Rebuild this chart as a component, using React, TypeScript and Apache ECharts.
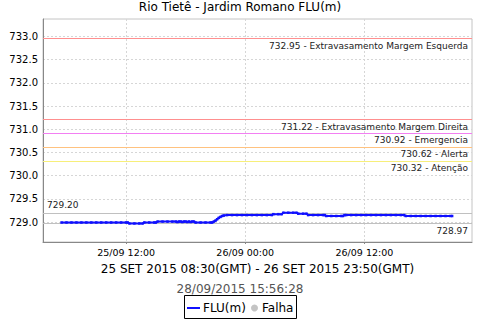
import React, { useEffect, useRef } from "react";
import * as echarts from "echarts";

const TITLE = "Rio Tietê - Jardim Romano FLU(m)";
const X_NAME = "25 SET 2015 08:30(GMT) - 26 SET 2015 23:50(GMT)";
const STAMP = "28/09/2015 15:56:28";
const SERIES_NAME = "FLU(m)";
const FAIL_NAME = "Falha";

const Y_TICKS = [729.0, 729.5, 730.0, 730.5, 731.0, 731.5, 732.0, 732.5, 733.0];
const Y_RANGE = [728.57, 733.375];
const X_TICKS = ["25/09 12:00", "26/09 00:00", "26/09 12:00"];
const X_RANGE = ["25/09 03:38", "26/09 22:50"];

const THRESHOLD_VALUES = [732.95, 731.22, 730.92, 730.62, 730.32];
const THRESHOLD_NAMES = [
  "Extravasamento Margem Esquerda",
  "Extravasamento Margem Direita",
  "Emergencia",
  "Alerta",
  "Atenção",
];
const THRESHOLD_COLORS = ["#ff8f8f", "#ff8f8f", "#f27ff2", "#ffc27f", "#f7ef7a"];

const TIMES = [
  "25/09 05:30", "25/09 06:00", "25/09 06:30", "25/09 07:00", "25/09 07:30", "25/09 08:00",
  "25/09 08:30", "25/09 09:00", "25/09 09:30", "25/09 10:00", "25/09 10:30", "25/09 11:00",
  "25/09 11:30", "25/09 12:00", "25/09 12:10", "25/09 12:20", "25/09 12:50", "25/09 13:20",
  "25/09 13:40", "25/09 13:50", "25/09 14:20", "25/09 14:50", "25/09 15:00", "25/09 15:10",
  "25/09 15:40", "25/09 16:10", "25/09 16:40", "25/09 17:00", "25/09 17:10", "25/09 17:20",
  "25/09 17:30", "25/09 17:40", "25/09 17:50", "25/09 18:00", "25/09 18:10", "25/09 18:20",
  "25/09 18:30", "25/09 18:40", "25/09 18:50", "25/09 19:00", "25/09 19:30", "25/09 20:00",
  "25/09 20:30", "25/09 20:40", "25/09 20:50", "25/09 21:00", "25/09 21:10", "25/09 21:20",
  "25/09 21:30", "25/09 21:40", "25/09 21:50", "25/09 22:10", "25/09 22:40", "25/09 23:10",
  "25/09 23:40", "26/09 00:10", "26/09 00:40", "26/09 01:10", "26/09 01:40", "26/09 02:10",
  "26/09 02:40", "26/09 02:50", "26/09 03:20", "26/09 03:40", "26/09 03:50", "26/09 04:20",
  "26/09 04:50", "26/09 05:10", "26/09 05:20", "26/09 05:50", "26/09 06:10", "26/09 06:20",
  "26/09 06:50", "26/09 07:20", "26/09 07:50", "26/09 08:00", "26/09 08:10", "26/09 08:40",
  "26/09 09:10", "26/09 09:40", "26/09 09:50", "26/09 10:00", "26/09 10:10", "26/09 10:40",
  "26/09 11:10", "26/09 11:40", "26/09 12:10", "26/09 12:40", "26/09 13:10", "26/09 13:40",
  "26/09 14:10", "26/09 14:40", "26/09 15:10", "26/09 15:40", "26/09 16:00", "26/09 16:10",
  "26/09 16:40", "26/09 17:10", "26/09 17:40", "26/09 18:10", "26/09 18:40", "26/09 19:10",
  "26/09 19:40", "26/09 20:10", "26/09 20:40", "26/09 20:50",
];
const LEVELS = [
  728.99, 728.99, 728.99, 728.99, 728.99, 728.99,
  728.99, 728.99, 728.99, 728.99, 728.99, 728.99,
  728.99, 728.99, 728.99, 728.97, 728.97, 728.97,
  728.97, 728.99, 728.99, 728.99, 728.99, 729.01,
  729.01, 729.01, 729.01, 729.01, 729.0, 729.01,
  729.01, 729.0, 729.01, 729.01, 729.0, 729.01,
  729.0, 729.01, 729.01, 728.99, 728.99, 728.99,
  728.99, 728.99, 729.01, 729.03, 729.06, 729.09,
  729.11, 729.13, 729.14, 729.15, 729.15, 729.15,
  729.15, 729.15, 729.15, 729.15, 729.15, 729.15,
  729.15, 729.17, 729.17, 729.17, 729.2, 729.2,
  729.2, 729.2, 729.18, 729.18, 729.18, 729.15,
  729.15, 729.15, 729.15, 729.15, 729.13, 729.13,
  729.13, 729.13, 729.13, 729.15, 729.15, 729.15,
  729.15, 729.15, 729.15, 729.15, 729.15, 729.15,
  729.15, 729.15, 729.15, 729.15, 729.15, 729.13,
  729.13, 729.13, 729.13, 729.13, 729.13, 729.13,
  729.13, 729.13, 729.13, 729.13,
];

const FONT = "DejaVu Sans";

function parseTime(s: string): number {
  const [d, t] = s.split(" ");
  const [dd, mm] = d.split("/").map(Number);
  const [hh, mi] = t.split(":").map(Number);
  return Date.UTC(2015, mm - 1, dd, hh, mi);
}
const pad = (n: number) => (n < 10 ? "0" + n : "" + n);
function fmtTime(v: number): string {
  const d = new Date(v);
  return `${pad(d.getUTCDate())}/${pad(d.getUTCMonth() + 1)} ${pad(d.getUTCHours())}:${pad(d.getUTCMinutes())}`;
}

const refLabel = (position: string, formatter: any) => ({
  show: true,
  position,
  formatter,
  color: "#222",
  fontSize: 9,
  fontFamily: FONT,
  distance: [4, 3],
});

export default function App() {
  const ref = useRef<HTMLDivElement>(null);
  useEffect(() => {
    document.body.style.margin = "0";
    const chart = echarts.init(ref.current!, null, { renderer: "svg" });
    const data = TIMES.map((t, i) => [parseTime(t), LEVELS[i]]);
    const thresholdSeries = THRESHOLD_VALUES.map((v, i) => ({
      name: THRESHOLD_NAMES[i],
      type: "line",
      data: [],
      silent: true,
      markLine: {
        silent: true,
        symbol: "none",
        lineStyle: { color: THRESHOLD_COLORS[i], type: "solid", width: 1 },
        label: refLabel("insideEndBottom", `${v.toFixed(2)} - ${THRESHOLD_NAMES[i]}`),
        data: [{ yAxis: v }],
      },
    }));
    chart.setOption({
      animation: false,
      textStyle: { fontFamily: FONT },
      title: {
        text: TITLE,
        left: "center",
        top: 1,
        padding: 0,
        textStyle: { fontSize: 12, fontWeight: "normal", fontFamily: FONT, color: "#000" },
      },
      grid: {
        left: 43,
        right: 8,
        top: 19,
        bottom: 78,
        show: true,
        borderColor: "#c4c4c4",
        borderWidth: 1,
        backgroundColor: "#fff",
      },
      xAxis: {
        type: "value",
        min: parseTime(X_RANGE[0]),
        max: parseTime(X_RANGE[1]),
        name: X_NAME,
        nameLocation: "middle",
        nameGap: 21,
        nameTextStyle: { fontSize: 12, fontFamily: FONT, color: "#000" },
        axisLine: { show: true, lineStyle: { color: "#888", width: 1 } },
        axisTick: {
          show: true,
          length: 2,
          customValues: X_TICKS.map(parseTime),
          lineStyle: { color: "#888" },
        },
        axisLabel: {
          customValues: X_TICKS.map(parseTime),
          formatter: (v: number) => fmtTime(v),
          fontSize: 9.5,
          fontFamily: FONT,
          color: "#000",
          margin: 5,
        },
        splitLine: {
          show: true,
          lineStyle: { color: "#d6d6d6", type: [2, 2], width: 1 },
        },
      },
      yAxis: {
        type: "value",
        min: Y_RANGE[0],
        max: Y_RANGE[1],
        axisLine: { show: true, lineStyle: { color: "#888", width: 1 } },
        axisTick: { show: false, customValues: Y_TICKS },
        axisLabel: {
          customValues: Y_TICKS,
          formatter: (v: number) => v.toFixed(1),
          fontSize: 10,
          fontFamily: FONT,
          color: "#000",
          margin: 5,
        },
        splitLine: {
          show: true,
          lineStyle: { color: "#d6d6d6", type: [2, 2], width: 1 },
        },
      },
      series: [
        ...thresholdSeries,
        {
          name: "max",
          type: "line",
          data: [],
          silent: true,
          markLine: {
            silent: true,
            symbol: "none",
            lineStyle: { color: "#c0c0c0", type: "solid", width: 1 },
            label: refLabel("insideStartTop", (p: any) => Number(p.value).toFixed(2)),
            data: [{ yAxis: Math.max(...LEVELS) }],
          },
        },
        {
          name: "min",
          type: "line",
          data: [],
          silent: true,
          markLine: {
            silent: true,
            symbol: "none",
            lineStyle: { color: "#c0c0c0", type: "solid", width: 1 },
            label: refLabel("insideEndBottom", (p: any) => Number(p.value).toFixed(2)),
            data: [{ yAxis: Math.min(...LEVELS) }],
          },
        },
        {
          name: SERIES_NAME,
          type: "line",
          data,
          symbol: "rect",
          symbolSize: 2.5,
          showSymbol: true,
          itemStyle: { color: "#1010ff" },
          lineStyle: { color: "#1010ff", width: 2 },
          z: 5,
        },
      ],
      graphic: [
        {
          type: "text",
          x: 240,
          y: 289,
          style: {
            text: STAMP,
            fill: "#555",
            fontSize: 12,
            fontFamily: FONT,
            align: "center",
            verticalAlign: "middle",
          },
        },
        {
          type: "rect",
          shape: { x: 184.5, y: 295.5, width: 112, height: 23 },
          style: { fill: "#fff", stroke: "#000", lineWidth: 1 },
        },
        {
          type: "line",
          shape: { x1: 187, y1: 308, x2: 200, y2: 308 },
          style: { stroke: "#1010ff", lineWidth: 2 },
        },
        {
          type: "text",
          x: 203,
          y: 308,
          style: { text: SERIES_NAME, fill: "#000", fontSize: 12, fontFamily: FONT, verticalAlign: "middle" },
        },
        {
          type: "circle",
          shape: { cx: 254.5, cy: 308, r: 3.5 },
          style: { fill: "#c4c4c4" },
        },
        {
          type: "text",
          x: 262,
          y: 308,
          style: { text: FAIL_NAME, fill: "#000", fontSize: 12, fontFamily: FONT, verticalAlign: "middle" },
        },
      ],
    });
    return () => chart.dispose();
  }, []);
  return (
    <div
      ref={ref}
      style={{ position: "fixed", left: 0, top: 0, width: 480, height: 320, background: "#fff" }}
    />
  );
}
